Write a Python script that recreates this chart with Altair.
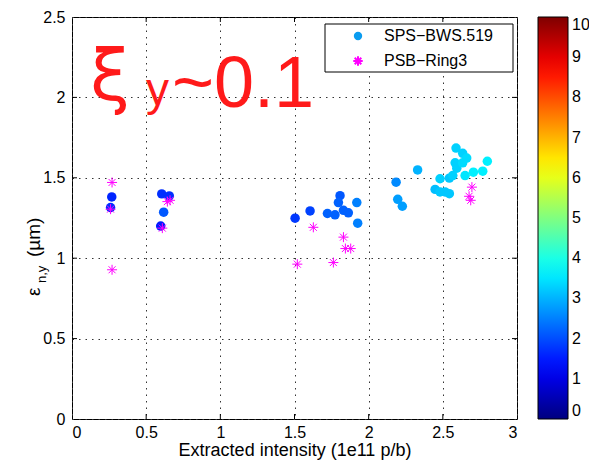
import altair as alt
import pandas as pd

# SPS-BWS.519 : x (1e11 p/b), y (um), colour value (0-10 jet scale)
sps_x = [0.268, 0.260, 0.605, 0.656, 0.618, 0.598,
         1.504, 1.605, 1.722, 1.773, 1.807, 1.796, 1.830, 1.863, 1.920, 1.926,
         2.185, 2.196, 2.227, 2.330, 2.448, 2.481, 2.515, 2.544, 2.481, 2.544,
         2.567, 2.594, 2.583, 2.634, 2.589, 2.634, 2.661, 2.650, 2.706, 2.769, 2.800]
sps_y = [1.381, 1.315, 1.400, 1.387, 1.286, 1.200,
         1.249, 1.294, 1.278, 1.270, 1.389, 1.346, 1.298, 1.282, 1.346, 1.218,
         1.473, 1.366, 1.323, 1.549, 1.428, 1.412, 1.412, 1.401, 1.494, 1.498,
         1.514, 1.560, 1.593, 1.593, 1.685, 1.652, 1.623, 1.514, 1.535, 1.541, 1.603]
sps_c = [1.6, 1.7, 1.7, 1.7, 2.1, 1.5,
         1.8, 1.9, 2.2, 2.2, 2.1, 2.2, 2.2, 2.2, 2.5, 2.5,
         2.6, 2.8, 2.8, 3.0, 3.1, 3.2, 3.2, 3.2, 3.3, 3.2,
         3.3, 3.3, 3.3, 3.4, 3.3, 3.3, 3.4, 3.5, 3.6, 3.6, 3.6]

# PSB-Ring3
psb_x = [0.270, 0.260, 0.270, 0.643, 0.661, 0.609,
         1.519, 1.627, 1.762, 1.830, 1.843, 1.879, 2.696, 2.677, 2.688]
psb_y = [1.471, 1.305, 0.928, 1.352, 1.360, 1.187,
         0.963, 1.192, 0.973, 1.131, 1.060, 1.060, 1.442, 1.385, 1.360]

x_ticks = [0, 0.5, 1, 1.5, 2, 2.5, 3]
y_ticks = [0, 0.5, 1, 1.5, 2, 2.5]
inner_x = [0.5, 1, 1.5, 2, 2.5]
inner_y = [0.5, 1, 1.5, 2]
cbar_ticks = list(range(11))

jet_domain = [0, 1.25, 3.75, 6.25, 8.75, 10]
jet_range = ["#00007f", "#0000ff", "#00ffff", "#ffff00", "#ff0000", "#7f0000"]

FONT = "Liberation Sans"
W, H = 445, 402

sps = pd.DataFrame({"x": sps_x, "y": sps_y, "c": sps_c})
psb = pd.DataFrame({"x": psb_x, "y": psb_y})
one = pd.DataFrame({"a": [0]})

xs = alt.Scale(domain=[0, 3], nice=False)
ys = alt.Scale(domain=[0, 2.5], nice=False)

xax = alt.Axis(values=x_ticks, format="~g", grid=True, gridDash=[1.5, 5], gridColor="#333333",
               gridOpacity=1, domain=False, ticks=False, labelFontSize=16, labelPadding=5,
               title="Extracted intensity (1e11 p/b)", titleFontSize=18, titlePadding=1,
               titleFontWeight="normal")
yax = alt.Axis(values=y_ticks, format="~g", grid=True, gridDash=[1.5, 5], gridColor="#333333",
               gridOpacity=1, domain=False, ticks=False, labelFontSize=16, labelPadding=7,
               title=None)

ASTER = "M-1,0L1,0M0,-1L0,1M-0.7,-0.7L0.7,0.7M-0.7,0.7L0.7,-0.7"

blue = alt.Chart(sps).mark_circle(size=90, opacity=1).encode(
    x=alt.X("x:Q", scale=xs, axis=xax),
    y=alt.Y("y:Q", scale=ys, axis=yax),
    color=alt.Color("c:Q",
                    scale=alt.Scale(domain=jet_domain, range=jet_range, interpolate="rgb"),
                    legend=alt.Legend(orient="none", legendX=466, legendY=0, direction="vertical",
                                      gradientLength=H, gradientThickness=30,
                                      gradientStrokeColor="black", gradientStrokeWidth=1,
                                      title=None, values=cbar_ticks, labelFontSize=16,
                                      labelOffset=4, labelBaseline="middle", padding=0,
                                      labelOverlap=False)),
)

pink = alt.Chart(psb).mark_point(shape=ASTER, filled=False, color="#ff00ff", strokeWidth=1,
                                 size=100, opacity=1).encode(x="x:Q", y="y:Q")

tdf_x = pd.DataFrame({"t": inner_x})
tdf_y = pd.DataFrame({"t": inner_y})
tb = alt.Chart(tdf_x).mark_rule(color="black").encode(x="t:Q", y=alt.value(H - 5), y2=alt.value(H))
tt = alt.Chart(tdf_x).mark_rule(color="black").encode(x="t:Q", y=alt.value(0), y2=alt.value(5))
tl = alt.Chart(tdf_y).mark_rule(color="black").encode(y="t:Q", x=alt.value(0), x2=alt.value(5))
tr = alt.Chart(tdf_y).mark_rule(color="black").encode(y="t:Q", x=alt.value(W - 5), x2=alt.value(W))

box = alt.Chart(one).mark_rect(fill="white", stroke="black", strokeWidth=1).encode(
    x=alt.value(253), x2=alt.value(441), y=alt.value(7), y2=alt.value(55))
leg_c = alt.Chart(one).mark_point(shape="circle", filled=True, color="#0a9cf0", size=70,
                                  opacity=1).encode(x=alt.value(286), y=alt.value(19))
leg_a = alt.Chart(one).mark_point(shape=ASTER, filled=False, color="#ff00ff", size=90,
                                  opacity=1).encode(x=alt.value(286), y=alt.value(44))
leg_t1 = alt.Chart(one).mark_text(text="SPS\u2212BWS.519", align="left", baseline="middle",
                                  fontSize=16, font=FONT).encode(x=alt.value(312), y=alt.value(19))
leg_t2 = alt.Chart(one).mark_text(text="PSB\u2212Ring3", align="left", baseline="middle",
                                  fontSize=16, font=FONT).encode(x=alt.value(312), y=alt.value(44))

RED = "#ff1a1a"
xi = alt.Chart(one).mark_text(text="\u03be", align="left", baseline="alphabetic", fontSize=72,
                              font="DejaVu Sans", color=RED).encode(x=alt.value(18), y=alt.value(83))
xi_sub = alt.Chart(one).mark_text(text="y", align="left", baseline="alphabetic", fontSize=46,
                                  font=FONT, color=RED).encode(x=alt.value(74), y=alt.value(88))
xi_val = alt.Chart(one).mark_text(text="~0.1", align="left", baseline="alphabetic", fontSize=72,
                                  font=FONT, color=RED).encode(x=alt.value(100), y=alt.value(90))

yt1 = alt.Chart(one).mark_text(text="\u03b5", angle=270, align="left", baseline="alphabetic",
                               fontSize=19, font=FONT).encode(x=alt.value(-32), y=alt.value(279))
yt2 = alt.Chart(one).mark_text(text="n,y", angle=270, align="left", baseline="alphabetic",
                               fontSize=13, font=FONT).encode(x=alt.value(-26), y=alt.value(266))
yt3 = alt.Chart(one).mark_text(text="(\u00b5m)", angle=270, align="left", baseline="alphabetic",
                               fontSize=19, font=FONT).encode(x=alt.value(-32), y=alt.value(240))

chart = alt.layer(blue, pink, tb, tt, tl, tr, box, leg_c, leg_a, leg_t1, leg_t2,
                  xi, xi_sub, xi_val, yt1, yt2, yt3).properties(
    width=W, height=H,
    autosize=alt.AutoSizeParams(type="none"),
    padding={"left": 64, "top": 9, "right": 72, "bottom": 43},
).configure_view(stroke="black", strokeWidth=1).configure_axis(
    labelFont=FONT, titleFont=FONT, labelColor="black", titleColor="black"
).configure_legend(labelFont=FONT, labelColor="black")

chart.save("out.html", embed_options={"renderer": "svg", "actions": False})
